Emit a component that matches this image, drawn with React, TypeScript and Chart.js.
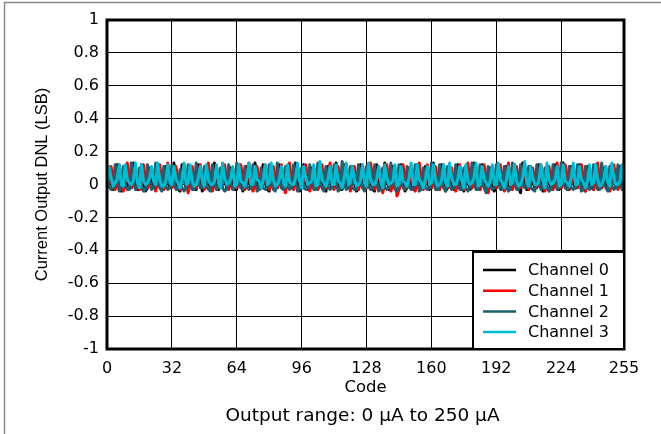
import React, { useEffect, useRef } from "react";
import { Chart, registerables } from "chart.js";

Chart.register(...registerables);

const xTickValues = [0, 32, 64, 96, 128, 160, 192, 224, 255];
const seriesNames = ["Channel 0", "Channel 1", "Channel 2", "Channel 3"];
const seriesColors = ["#000000", "#ff0000", "#1b5f70", "#00bcd0"];
const footerText = "Output range: 0 µA to 250 µA";

const channel0 = [
  -.01,.10,.02,-.03, -.02,.12,.04,-.04, -.03,.11,.01,-.02, -.02,.13,.03,-.03,
  -.03,.12,.02,-.04, -.02,.10,.05,-.02, -.01,.12,.02,-.03, -.03,.11,.03,-.02,
  -.02,.13,.01,-.03, -.04,.12,.04,-.02, -.02,.09,.02,-.03, -.03,.12,.03,-.04,
  -.02,.11,.02,-.02, -.03,.13,.03,-.03, -.01,.12,.04,-.02, -.02,.10,.02,-.03,
  -.03,.12,.03,-.04, -.02,.11,.02,-.02, -.03,.13,.05,-.03, -.02,.12,.02,-.03,
  -.04,.10,.03,-.02, -.02,.12,.02,-.03, -.03,.11,.03,-.02, -.02,.13,.04,-.04,
  -.02,.12,.02,-.03, -.03,.10,.03,-.02, -.02,.12,.01,-.03, -.04,.11,.03,-.02,
  -.02,.13,.04,-.03, -.03,.12,.02,-.02, -.02,.11,.03,-.04, -.03,.12,.02,-.02,
  -.02,.10,.03,-.03, -.04,.12,.02,-.02, -.02,.13,.04,-.03, -.03,.11,.02,-.02,
  -.03,.12,.03,-.04, -.02,.10,.02,-.03, -.03,.12,.03,-.02, -.02,.11,.04,-.03,
  -.02,.13,.02,-.02, -.03,.12,.03,-.04, -.02,.11,.02,-.03, -.03,.12,.03,-.02,
  -.04,.11,.03,-.03, -.02,.13,.02,-.02, -.03,.12,.04,-.03, -.02,.10,.02,-.04,
  -.02,.12,.03,-.02, -.03,.11,.02,-.03, -.02,.12,.03,-.02, -.05,.13,.04,-.03,
  -.03,.11,.02,-.02, -.02,.12,.03,-.04, -.03,.10,.02,-.02, -.02,.12,.03,-.03,
  -.02,.13,.04,-.03, -.03,.11,.02,-.02, -.02,.12,.03,-.03, -.04,.11,.02,-.02,
  -.03,.12,.03,-.02, -.02,.10,.02,-.03, -.03,.12,.04,-.02, -.02,.11,.03,-.01,
];

const channel1 = [
  -.02,.01,.11,.03, -.03,.02,.12,.02, -.04,.01,.13,.04, -.02,.02,.11,.03,
  -.03,.01,.12,.02, -.02,.03,.10,.03, -.04,.02,.12,.02, -.03,.01,.13,.04,
  -.02,.02,.11,.03, -.03,.01,.12,.02, -.05,.02,.11,.03, -.02,.01,.12,.02,
  -.03,.02,.13,.03, -.04,.01,.11,.04, -.02,.02,.12,.02, -.03,.01,.10,.03,
  -.02,.02,.12,.03, -.03,.01,.13,.02, -.04,.02,.11,.03, -.02,.01,.12,.04,
  -.03,.02,.11,.02, -.02,.01,.12,.03, -.05,.02,.13,.02, -.03,.01,.11,.03,
  -.02,.01,.12,.03, -.04,.02,.10,.02, -.03,.01,.12,.04, -.02,.02,.13,.03,
  -.03,.02,.11,.02, -.02,.01,.12,.03, -.04,.02,.11,.02, -.03,.01,.12,.03,
  -.02,.02,.13,.04, -.03,.01,.11,.02, -.05,.02,.12,.03, -.04,.01,.10,-.07,
  -.03,.02,.12,.03, -.02,.01,.11,.02, -.04,.02,.13,.03, -.03,.01,.12,.02,
  -.02,.02,.11,.03, -.03,.01,.12,.04, -.02,.02,.10,.02, -.04,.01,.12,.03,
  -.03,.02,.13,.02, -.02,.01,.11,.03, -.03,.02,.12,.02, -.05,.01,.11,.03,
  -.02,.02,.12,.03, -.04,.01,.13,.02, -.03,.02,.11,.04, -.02,.01,.12,.03,
  -.03,.02,.10,.02, -.02,.01,.12,.03, -.04,.02,.11,.02, -.03,.01,.13,.03,
  -.02,.02,.12,.04, -.03,.01,.11,.02, -.02,.02,.12,.03, -.04,.01,.10,.02,
  -.03,.02,.13,.03, -.02,.01,.11,.02, -.04,.02,.12,.03, -.03,.01,.11,-.01,
];

const channel2 = [
  .02,-.01,-.03,-.02, .12,.03,-.04,-.02, .11,-.01,-.03,-.03, .13,.02,-.03,-.02,
  .10,-.02,-.04,-.03, .12,.01,-.03,-.02, .13,.03,-.02,-.04, .11,-.01,-.03,-.02,
  .12,.02,-.03,-.03, .09,-.02,-.04,-.02, .12,.01,-.03,-.03, .13,.03,-.02,-.02,
  .11,-.01,-.03,-.04, .12,.02,-.03,-.02, .10,-.02,-.04,-.03, .12,.01,-.03,-.02,
  .13,.02,-.02,-.03, .11,-.01,-.03,-.02, .12,.03,-.04,-.03, .10,-.02,-.03,-.02,
  .12,.01,-.03,-.04, .13,.02,-.02,-.03, .11,-.01,-.03,-.02, .12,.02,-.04,-.03,
  .10,-.02,-.03,-.02, .12,.03,-.03,-.03, .13,.01,-.02,-.04, .11,-.01,-.03,-.02,
  .12,.02,-.04,-.03, .14,.01,-.03,-.02, .11,-.02,-.03,-.03, .12,.02,-.02,-.04,
  .11,-.01,-.03,-.02, .12,.02,-.04,-.03, .10,-.02,-.03,-.02, .13,.03,-.03,-.04,
  .12,.01,-.02,-.03, .11,-.01,-.03,-.02, .12,.02,-.04,-.03, .10,-.02,-.03,-.02,
  .13,.02,-.03,-.03, .12,.01,-.02,-.04, .11,-.01,-.03,-.02, .12,.02,-.03,-.03,
  .10,-.02,-.04,-.02, .13,.03,-.03,-.03, .12,.01,-.02,-.05, .11,-.01,-.03,-.02,
  .12,.02,-.03,-.03, .11,-.01,-.04,-.02, .13,.02,-.03,-.03, .12,.01,-.02,-.02,
  .11,-.02,-.03,-.04, .12,.02,-.03,-.02, .10,-.01,-.04,-.03, .12,.03,-.03,-.02,
  .13,.01,-.02,-.03, .11,-.02,-.03,-.02, .12,.02,-.04,-.03, .11,-.01,-.03,-.02,
  .12,.02,-.03,-.03, .13,.01,-.02,-.04, .11,-.01,-.03,-.02, .12,.02,-.03,-.01,
];

const channel3 = [
  .00,.11,.04,-.01, .01,.03,.12,.00, -.01,.12,.03,.01, .00,.02,.13,.01,
  -.02,.12,.02,.00, .01,.04,.11,.02, .00,.13,.03,-.01, -.01,.02,.12,.01,
  .00,.11,.03,.01, -.02,.03,.13,.00, .01,.12,.02,-.01, .00,.04,.11,.02,
  -.01,.12,.03,.00, .00,.02,.12,.01, -.02,.13,.04,.00, .01,.03,.11,-.01,
  .00,.12,.02,.01, -.01,.04,.13,.00, .00,.11,.03,.02, -.02,.02,.12,.00,
  .01,.13,.03,-.01, .00,.03,.11,.01, -.01,.12,.02,.00, .00,.04,.13,.02,
  -.02,.11,.04,.00, .01,.02,.12,-.01, .00,.14,.03,.01, -.01,.03,.11,.00,
  .00,.12,.02,.01, -.02,.04,.13,.00, .01,.11,.03,-.01, .00,.02,.12,.01,
  -.01,.13,.03,.00, .00,.03,.11,.02, -.02,.12,.04,.00, .01,.02,.12,-.01,
  .00,.11,.02,.01, -.01,.04,.13,.00, .00,.12,.03,.01, -.02,.03,.11,.00,
  .01,.12,.03,-.01, .00,.02,.12,.01, -.01,.13,.04,.00, .00,.03,.11,.02,
  -.02,.12,.02,.00, .01,.04,.13,-.01, .00,.11,.03,.01, -.01,.02,.12,.00,
  .00,.13,.03,.01, -.02,.03,.11,.00, .01,.12,.02,-.01, .00,.04,.14,.01,
  -.01,.11,.04,.00, .00,.02,.12,.02, -.02,.13,.03,.00, .01,.03,.11,-.01,
  .00,.12,.02,.01, -.01,.04,.13,.00, .00,.11,.03,.01, -.02,.02,.12,.00,
  .01,.12,.03,-.01, .00,.03,.11,.01, -.01,.13,.04,.00, .00,.02,.12,.01,
];

const allSeries = [channel0, channel1, channel2, channel3];

const WIDE = "'DejaVu Sans', sans-serif";
const NARROW = "'Liberation Sans', Arial, sans-serif";

const framePlugin = {
  id: "frameAndLegend",
  beforeDraw(chart: any) {
    const ctx = chart.ctx;
    ctx.save();
    ctx.fillStyle = "#ffffff";
    ctx.fillRect(0, 0, chart.width, chart.height);
    ctx.strokeStyle = "#8a8a8a";
    ctx.lineWidth = 1.5;
    ctx.beginPath();
    ctx.moveTo(4.5, chart.height);
    ctx.lineTo(4.5, 2.5);
    ctx.lineTo(chart.width, 2.5);
    ctx.stroke();
    ctx.restore();
  },
  afterDraw(chart: any) {
    const ctx = chart.ctx;
    const { left, right, top, bottom } = chart.chartArea;
    ctx.save();
    ctx.strokeStyle = "#000";
    ctx.lineWidth = 3;
    ctx.strokeRect(left, top, right - left, bottom - top);

    const w = 151;
    const h = 97;
    const x0 = right - w;
    const y0 = bottom - h;
    ctx.fillStyle = "#fff";
    ctx.fillRect(x0, y0, w, h);
    ctx.lineWidth = 2;
    ctx.strokeRect(x0, y0, w, h);
    ctx.font = `16px ${WIDE}`;
    ctx.textBaseline = "middle";
    ctx.textAlign = "left";
    seriesNames.forEach((name, i) => {
      const y = y0 + 18 + i * 20.7;
      ctx.strokeStyle = seriesColors[i];
      ctx.lineWidth = 2.5;
      ctx.beginPath();
      ctx.moveTo(x0 + 10, y);
      ctx.lineTo(x0 + 43, y);
      ctx.stroke();
      ctx.fillStyle = "#000";
      ctx.fillText(name, x0 + 55, y + 1);
    });

    ctx.font = `18.5px ${WIDE}`;
    ctx.textAlign = "center";
    ctx.fillText(footerText, (left + right) / 2 - 3, chart.height - 18);
    ctx.restore();
  },
};

export default function App() {
  const ref = useRef<HTMLCanvasElement>(null);

  useEffect(() => {
    if (!ref.current) return;
    const chart = new Chart(ref.current, {
      type: "line",
      data: {
        datasets: allSeries.map((vals, i) => ({
          label: seriesNames[i],
          data: vals.map((y, x) => ({ x, y })),
          borderColor: seriesColors[i],
          backgroundColor: seriesColors[i],
          borderWidth: 3,
          borderJoinStyle: "round",
          borderCapStyle: "round",
          pointRadius: 0,
          tension: 0,
          fill: false,
          order: 3 - i,
        })),
      },
      options: {
        responsive: false,
        animation: false,
        events: [],
        layout: { padding: { top: 20, right: 37, left: 0, bottom: 32.4 } },
        plugins: {
          legend: { display: false },
          tooltip: { enabled: false },
          title: { display: false },
        },
        scales: {
          x: {
            type: "linear",
            min: 0,
            max: 255,
            afterBuildTicks: (scale: any) => {
              scale.ticks = xTickValues.map((v) => ({ value: v }));
            },
            afterFit: (scale: any) => {
              scale.height = 52.6;
            },
            ticks: {
              color: "#000",
              font: { family: WIDE, size: 16 },
              padding: 10,
              maxRotation: 0,
              autoSkip: false,
            },
            grid: { color: "#000", lineWidth: 1, drawTicks: false },
            border: { display: false },
            title: {
              display: true,
              text: "Code",
              color: "#000",
              font: { family: WIDE, size: 16.5 },
              padding: { top: 0, bottom: 4 },
            },
          },
          y: {
            type: "linear",
            min: -1,
            max: 1,
            afterFit: (scale: any) => {
              scale.width = 107;
            },
            ticks: {
              stepSize: 0.2,
              color: "#000",
              font: { family: WIDE, size: 16 },
              padding: 8,
              callback: (v: any) => String(Number(Number(v).toFixed(1))),
            },
            grid: { color: "#000", lineWidth: 1, drawTicks: false },
            border: { display: false },
            title: {
              display: true,
              text: "Current Output DNL (LSB)",
              color: "#000",
              font: { family: NARROW, size: 16.5 },
              padding: { top: 33, bottom: 0 },
            },
          },
        },
      },
      plugins: [framePlugin],
    });
    return () => chart.destroy();
  }, []);

  return (
    <div style={{ position: "absolute", left: 0, top: 0, width: 661, height: 434, background: "#fff" }}>
      <canvas ref={ref} width={661} height={434} style={{ display: "block" }} />
    </div>
  );
}
